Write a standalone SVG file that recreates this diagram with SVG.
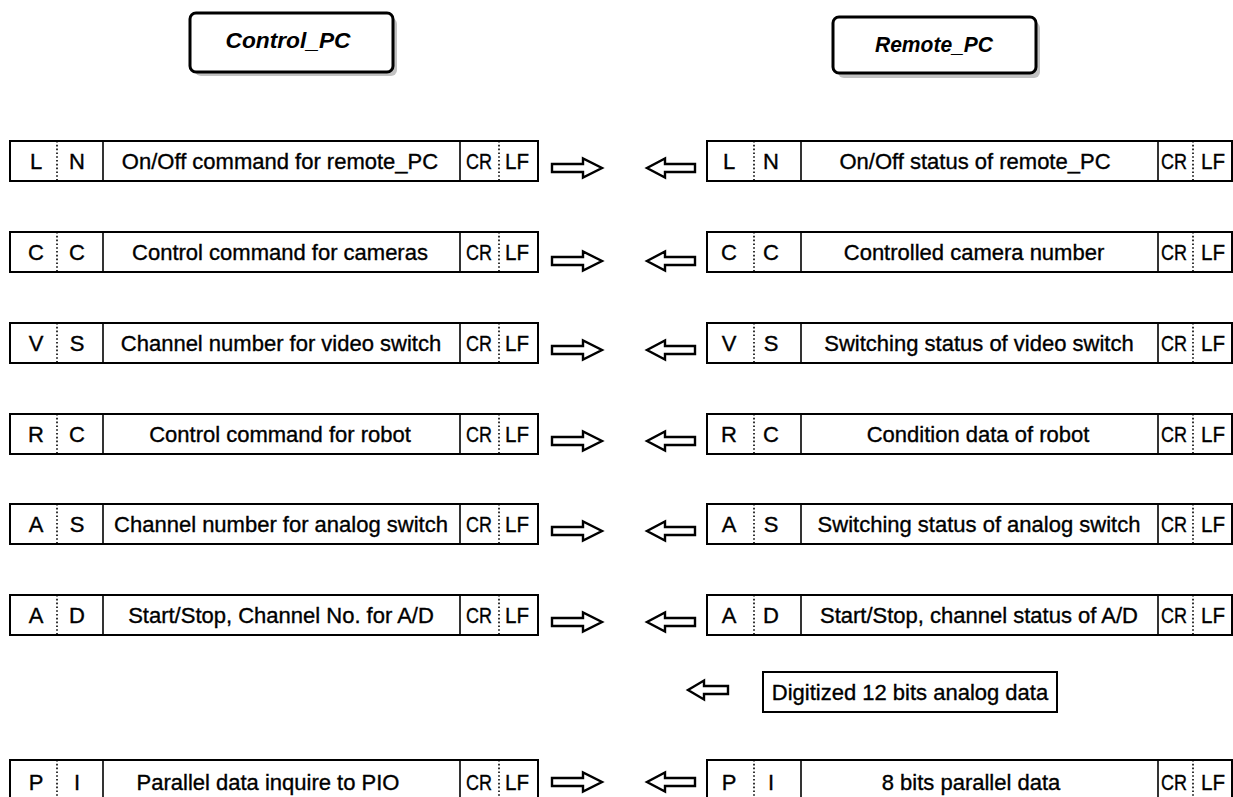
<svg xmlns="http://www.w3.org/2000/svg" width="1233" height="797" viewBox="0 0 1233 797">
  <style>
    .box { fill: #fff; stroke: #000; stroke-width: 2; }
    .div { stroke: #000; stroke-width: 1.6; }
    .dot { stroke: #000; stroke-width: 1.6; stroke-dasharray: 1.6 2.2; }
    .t { font-family: "Liberation Sans", Arial, sans-serif; font-size: 22px; fill: #000; stroke: #000; stroke-width: 0.35; text-anchor: middle; }
    .hd { font-family: "Liberation Sans", Arial, sans-serif; font-size: 22px; font-weight: bold; font-style: italic; fill: #000; text-anchor: middle; }
    .arrow { fill: #fff; stroke: #000; stroke-width: 2.4; stroke-linejoin: miter; }
    .shadow { fill: #9a9a9a; opacity: 0.6; }
  </style>
  <defs>
    <!-- hollow block arrows, origin at the left edge, centred on y=0 -->
    <path id="arrowRight" class="arrow" d="M0,-4 H31 V-9.5 L50,0 L31,9.5 V4 H0 Z"/>
    <path id="arrowLeft" class="arrow" d="M48,-4 H18 V-9.5 L0,0 L18,9.5 V4 H48 Z"/>
    <path id="arrowLeftShort" class="arrow" d="M40,-4 H16 V-9.5 L0,0 L16,9.5 V4 H40 Z"/>
  </defs>

  <rect width="1233" height="797" fill="#fff"/>

  <!-- headers -->
  <g id="control_pc">
    <rect class="shadow" x="195" y="18" width="202" height="58" rx="6"/>
    <rect x="190" y="13" width="203" height="59" rx="6" fill="#fff" stroke="#000" stroke-width="3"/>
    <text class="hd" x="288" y="48" textLength="125" lengthAdjust="spacingAndGlyphs">Control_PC</text>
  </g>
  <g id="remote_pc">
    <rect class="shadow" x="838" y="22" width="202" height="56" rx="6"/>
    <rect x="833" y="17" width="203" height="56" rx="6" fill="#fff" stroke="#000" stroke-width="3"/>
    <text class="hd" x="934" y="52" textLength="118" lengthAdjust="spacingAndGlyphs">Remote_PC</text>
  </g>

  <!-- command frames sent by Control_PC -->
  <g id="cmd_LN">
    <rect class="box" x="10" y="141" width="528" height="40"/>
    <line class="dot" x1="57" y1="141" x2="57" y2="181"/><line class="div" x1="103" y1="141" x2="103" y2="181"/>
    <line class="div" x1="460" y1="141" x2="460" y2="181"/><line class="dot" x1="499" y1="141" x2="499" y2="181"/>
    <text class="t" x="36" y="169">L</text><text class="t" x="77" y="169">N</text>
    <text class="t" x="280" y="169">On/Off command for remote_PC</text>
    <text class="t" x="479" y="169" textLength="26" lengthAdjust="spacingAndGlyphs">CR</text>
    <text class="t" x="517" y="169" textLength="24" lengthAdjust="spacingAndGlyphs">LF</text>
  </g>
  <g id="cmd_CC">
    <rect class="box" x="10" y="232" width="528" height="40"/>
    <line class="dot" x1="57" y1="232" x2="57" y2="272"/><line class="div" x1="103" y1="232" x2="103" y2="272"/>
    <line class="div" x1="460" y1="232" x2="460" y2="272"/><line class="dot" x1="499" y1="232" x2="499" y2="272"/>
    <text class="t" x="36" y="260">C</text><text class="t" x="77" y="260">C</text>
    <text class="t" x="280" y="260">Control command for cameras</text>
    <text class="t" x="479" y="260" textLength="26" lengthAdjust="spacingAndGlyphs">CR</text>
    <text class="t" x="517" y="260" textLength="24" lengthAdjust="spacingAndGlyphs">LF</text>
  </g>
  <g id="cmd_VS">
    <rect class="box" x="10" y="323" width="528" height="40"/>
    <line class="dot" x1="57" y1="323" x2="57" y2="363"/><line class="div" x1="103" y1="323" x2="103" y2="363"/>
    <line class="div" x1="460" y1="323" x2="460" y2="363"/><line class="dot" x1="499" y1="323" x2="499" y2="363"/>
    <text class="t" x="36" y="351">V</text><text class="t" x="77" y="351">S</text>
    <text class="t" x="281" y="351">Channel number for video switch</text>
    <text class="t" x="479" y="351" textLength="26" lengthAdjust="spacingAndGlyphs">CR</text>
    <text class="t" x="517" y="351" textLength="24" lengthAdjust="spacingAndGlyphs">LF</text>
  </g>
  <g id="cmd_RC">
    <rect class="box" x="10" y="414" width="528" height="40"/>
    <line class="dot" x1="57" y1="414" x2="57" y2="454"/><line class="div" x1="103" y1="414" x2="103" y2="454"/>
    <line class="div" x1="460" y1="414" x2="460" y2="454"/><line class="dot" x1="499" y1="414" x2="499" y2="454"/>
    <text class="t" x="36" y="442">R</text><text class="t" x="77" y="442">C</text>
    <text class="t" x="280" y="442">Control command for robot</text>
    <text class="t" x="479" y="442" textLength="26" lengthAdjust="spacingAndGlyphs">CR</text>
    <text class="t" x="517" y="442" textLength="24" lengthAdjust="spacingAndGlyphs">LF</text>
  </g>
  <g id="cmd_AS">
    <rect class="box" x="10" y="504" width="528" height="40"/>
    <line class="dot" x1="57" y1="504" x2="57" y2="544"/><line class="div" x1="103" y1="504" x2="103" y2="544"/>
    <line class="div" x1="460" y1="504" x2="460" y2="544"/><line class="dot" x1="499" y1="504" x2="499" y2="544"/>
    <text class="t" x="36" y="532">A</text><text class="t" x="77" y="532">S</text>
    <text class="t" x="281" y="532">Channel number for analog switch</text>
    <text class="t" x="479" y="532" textLength="26" lengthAdjust="spacingAndGlyphs">CR</text>
    <text class="t" x="517" y="532" textLength="24" lengthAdjust="spacingAndGlyphs">LF</text>
  </g>
  <g id="cmd_AD">
    <rect class="box" x="10" y="595" width="528" height="40"/>
    <line class="dot" x1="57" y1="595" x2="57" y2="635"/><line class="div" x1="103" y1="595" x2="103" y2="635"/>
    <line class="div" x1="460" y1="595" x2="460" y2="635"/><line class="dot" x1="499" y1="595" x2="499" y2="635"/>
    <text class="t" x="36" y="623">A</text><text class="t" x="77" y="623">D</text>
    <text class="t" x="281" y="623">Start/Stop, Channel No. for A/D</text>
    <text class="t" x="479" y="623" textLength="26" lengthAdjust="spacingAndGlyphs">CR</text>
    <text class="t" x="517" y="623" textLength="24" lengthAdjust="spacingAndGlyphs">LF</text>
  </g>
  <g id="cmd_PI">
    <rect class="box" x="10" y="760" width="528" height="40"/>
    <line class="dot" x1="57" y1="760" x2="57" y2="800"/><line class="div" x1="103" y1="760" x2="103" y2="800"/>
    <line class="div" x1="460" y1="760" x2="460" y2="800"/><line class="dot" x1="499" y1="760" x2="499" y2="800"/>
    <text class="t" x="36" y="790">P</text><text class="t" x="77" y="790">I</text>
    <text class="t" x="268" y="790">Parallel data inquire to PIO</text>
    <text class="t" x="479" y="790" textLength="26" lengthAdjust="spacingAndGlyphs">CR</text>
    <text class="t" x="517" y="790" textLength="24" lengthAdjust="spacingAndGlyphs">LF</text>
  </g>

  <!-- reply frames returned by Remote_PC -->
  <g id="rep_LN">
    <rect class="box" x="707" y="141" width="525" height="40"/>
    <line class="dot" x1="754" y1="141" x2="754" y2="181"/><line class="div" x1="801" y1="141" x2="801" y2="181"/>
    <line class="div" x1="1158" y1="141" x2="1158" y2="181"/><line class="dot" x1="1193" y1="141" x2="1193" y2="181"/>
    <text class="t" x="729" y="169">L</text><text class="t" x="771" y="169">N</text>
    <text class="t" x="975" y="169">On/Off status of remote_PC</text>
    <text class="t" x="1174" y="169" textLength="26" lengthAdjust="spacingAndGlyphs">CR</text>
    <text class="t" x="1213" y="169" textLength="24" lengthAdjust="spacingAndGlyphs">LF</text>
  </g>
  <g id="rep_CC">
    <rect class="box" x="707" y="232" width="525" height="40"/>
    <line class="dot" x1="754" y1="232" x2="754" y2="272"/><line class="div" x1="801" y1="232" x2="801" y2="272"/>
    <line class="div" x1="1158" y1="232" x2="1158" y2="272"/><line class="dot" x1="1193" y1="232" x2="1193" y2="272"/>
    <text class="t" x="729" y="260">C</text><text class="t" x="771" y="260">C</text>
    <text class="t" x="974" y="260">Controlled camera number</text>
    <text class="t" x="1174" y="260" textLength="26" lengthAdjust="spacingAndGlyphs">CR</text>
    <text class="t" x="1213" y="260" textLength="24" lengthAdjust="spacingAndGlyphs">LF</text>
  </g>
  <g id="rep_VS">
    <rect class="box" x="707" y="323" width="525" height="40"/>
    <line class="dot" x1="754" y1="323" x2="754" y2="363"/><line class="div" x1="801" y1="323" x2="801" y2="363"/>
    <line class="div" x1="1158" y1="323" x2="1158" y2="363"/><line class="dot" x1="1193" y1="323" x2="1193" y2="363"/>
    <text class="t" x="729" y="351">V</text><text class="t" x="771" y="351">S</text>
    <text class="t" x="979" y="351">Switching status of video switch</text>
    <text class="t" x="1174" y="351" textLength="26" lengthAdjust="spacingAndGlyphs">CR</text>
    <text class="t" x="1213" y="351" textLength="24" lengthAdjust="spacingAndGlyphs">LF</text>
  </g>
  <g id="rep_RC">
    <rect class="box" x="707" y="414" width="525" height="40"/>
    <line class="dot" x1="754" y1="414" x2="754" y2="454"/><line class="div" x1="801" y1="414" x2="801" y2="454"/>
    <line class="div" x1="1158" y1="414" x2="1158" y2="454"/><line class="dot" x1="1193" y1="414" x2="1193" y2="454"/>
    <text class="t" x="729" y="442">R</text><text class="t" x="771" y="442">C</text>
    <text class="t" x="978" y="442">Condition data of robot</text>
    <text class="t" x="1174" y="442" textLength="26" lengthAdjust="spacingAndGlyphs">CR</text>
    <text class="t" x="1213" y="442" textLength="24" lengthAdjust="spacingAndGlyphs">LF</text>
  </g>
  <g id="rep_AS">
    <rect class="box" x="707" y="504" width="525" height="40"/>
    <line class="dot" x1="754" y1="504" x2="754" y2="544"/><line class="div" x1="801" y1="504" x2="801" y2="544"/>
    <line class="div" x1="1158" y1="504" x2="1158" y2="544"/><line class="dot" x1="1193" y1="504" x2="1193" y2="544"/>
    <text class="t" x="729" y="532">A</text><text class="t" x="771" y="532">S</text>
    <text class="t" x="979" y="532">Switching status of analog switch</text>
    <text class="t" x="1174" y="532" textLength="26" lengthAdjust="spacingAndGlyphs">CR</text>
    <text class="t" x="1213" y="532" textLength="24" lengthAdjust="spacingAndGlyphs">LF</text>
  </g>
  <g id="rep_AD">
    <rect class="box" x="707" y="595" width="525" height="40"/>
    <line class="dot" x1="754" y1="595" x2="754" y2="635"/><line class="div" x1="801" y1="595" x2="801" y2="635"/>
    <line class="div" x1="1158" y1="595" x2="1158" y2="635"/><line class="dot" x1="1193" y1="595" x2="1193" y2="635"/>
    <text class="t" x="729" y="623">A</text><text class="t" x="771" y="623">D</text>
    <text class="t" x="979" y="623">Start/Stop, channel status of A/D</text>
    <text class="t" x="1174" y="623" textLength="26" lengthAdjust="spacingAndGlyphs">CR</text>
    <text class="t" x="1213" y="623" textLength="24" lengthAdjust="spacingAndGlyphs">LF</text>
  </g>
  <g id="rep_analog">
    <rect class="box" x="763" y="672" width="294" height="40"/>
    <text class="t" x="910" y="700">Digitized 12 bits analog data</text>
  </g>
  <g id="rep_PI">
    <rect class="box" x="707" y="760" width="525" height="40"/>
    <line class="dot" x1="754" y1="760" x2="754" y2="800"/><line class="div" x1="801" y1="760" x2="801" y2="800"/>
    <line class="div" x1="1158" y1="760" x2="1158" y2="800"/><line class="dot" x1="1193" y1="760" x2="1193" y2="800"/>
    <text class="t" x="729" y="790">P</text><text class="t" x="771" y="790">I</text>
    <text class="t" x="971" y="790">8 bits parallel data</text>
    <text class="t" x="1174" y="790" textLength="26" lengthAdjust="spacingAndGlyphs">CR</text>
    <text class="t" x="1213" y="790" textLength="24" lengthAdjust="spacingAndGlyphs">LF</text>
  </g>

  <!-- transfer arrows -->
  <g id="connectors">
    <use href="#arrowRight" x="552" y="168"/>
    <use href="#arrowLeft" x="647" y="168"/>
    <use href="#arrowRight" x="552" y="261"/>
    <use href="#arrowLeft" x="647" y="261"/>
    <use href="#arrowRight" x="552" y="350"/>
    <use href="#arrowLeft" x="647" y="350"/>
    <use href="#arrowRight" x="552" y="441"/>
    <use href="#arrowLeft" x="647" y="441"/>
    <use href="#arrowRight" x="552" y="531"/>
    <use href="#arrowLeft" x="647" y="531"/>
    <use href="#arrowRight" x="552" y="622"/>
    <use href="#arrowLeft" x="647" y="622"/>
    <use href="#arrowLeftShort" x="688" y="690"/>
    <use href="#arrowRight" x="552" y="782"/>
    <use href="#arrowLeft" x="647" y="782"/>
  </g>
</svg>
